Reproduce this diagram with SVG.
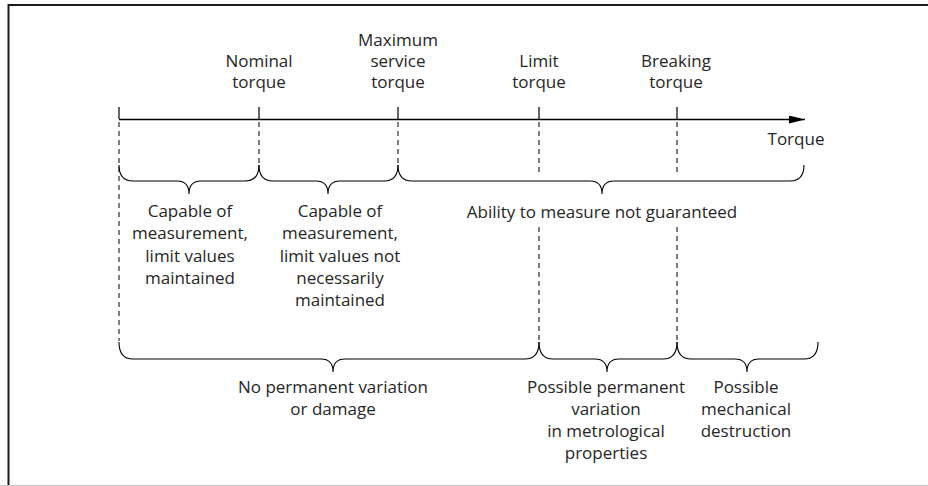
<svg xmlns="http://www.w3.org/2000/svg" width="928" height="486" viewBox="0 0 928 486">
<style>
text{font-family:"Open Sans","Liberation Sans",sans-serif;font-size:17px;fill:#262626;text-anchor:middle}
.frame{fill:none;stroke:#1a1a1a;stroke-width:2}
.axis{stroke:#000;stroke-width:1.4;fill:none}
.tick{stroke:#000;stroke-width:1.2}
.dash{stroke:#000;stroke-width:1;stroke-dasharray:5 4;fill:none}
.brace{stroke:#000;stroke-width:1.1;fill:none}
</style>
<defs>
<marker id="arr" viewBox="0 0 16 8" refX="16" refY="4" markerWidth="16" markerHeight="8" markerUnits="userSpaceOnUse" orient="auto">
<path d="M0,0 L16,4 L0,8 Z" fill="#000"/>
</marker>
</defs>
<path class="frame" d="M8.5,486 V5 H928"/>
<line x1="0" y1="485.5" x2="928" y2="485.5" stroke="#c8c8c8" stroke-width="1"/>

<g id="connectors">
<line class="axis" x1="119" y1="119.5" x2="805" y2="119.5" marker-end="url(#arr)"/>
<g id="ticks">
<line class="tick" x1="119" y1="107" x2="119" y2="119"/>
<line class="tick" x1="259" y1="107" x2="259" y2="119"/>
<line class="tick" x1="398" y1="107" x2="398" y2="119"/>
<line class="tick" x1="539" y1="107" x2="539" y2="119"/>
<line class="tick" x1="677" y1="107" x2="677" y2="119"/>
</g>
<g id="dashes">
<line class="dash" x1="119" y1="122" x2="119" y2="341"/>
<line class="dash" x1="259" y1="122" x2="259" y2="165"/>
<line class="dash" x1="398" y1="122" x2="398" y2="165"/>
<line class="dash" x1="539" y1="122" x2="539" y2="174"/>
<line class="dash" x1="677" y1="122" x2="677" y2="174"/>
<line class="dash" x1="539" y1="227" x2="539" y2="343"/>
<line class="dash" x1="677" y1="227" x2="677" y2="343"/>
</g>
<g id="braces">
<path class="brace" d="M119,165 Q119,181 133,181 H177 Q189,181 189,194 Q189,181 201,181 H245 Q259,181 259,165"/>
<path class="brace" d="M259,165 Q259,181 273,181 H316 Q328,181 328,194 Q328,181 340,181 H384 Q398,181 398,165"/>
<path class="brace" d="M398,165 Q398,181 412,181 H590 Q602,181 602,194 Q602,181 614,181 H790 Q804,181 804,165"/>
<path class="brace" d="M119,342 Q119,359 133,359 H321 Q333,359 333,372 Q333,359 345,359 H525 Q539,359 539,342"/>
<path class="brace" d="M539,342 Q539,359 553,359 H595 Q607,359 607,372 Q607,359 619,359 H663 Q677,359 677,342"/>
<path class="brace" d="M677,342 Q677,359 691,359 H735 Q747,359 747,372 Q747,359 759,359 H804 Q818,359 818,342"/>
</g>
</g>

<g id="nominal"><text x="259" y="67">Nominal</text><text x="259" y="88">torque</text></g>
<g id="maxservice"><text x="398" y="46">Maximum</text><text x="398" y="67">service</text><text x="398" y="88">torque</text></g>
<g id="limit"><text x="539" y="67">Limit</text><text x="539" y="88">torque</text></g>
<g id="breaking"><text x="676" y="67">Breaking</text><text x="676" y="88">torque</text></g>
<g id="torque-axis"><text x="796" y="145">Torque</text></g>

<g id="capable1">
<text x="190" y="217">Capable of</text>
<text x="190" y="239">measurement,</text>
<text x="190" y="262">limit values</text>
<text x="190" y="284">maintained</text>
</g>
<g id="capable2">
<text x="340" y="217">Capable of</text>
<text x="340" y="239">measurement,</text>
<text x="340" y="262">limit values not</text>
<text x="340" y="284">necessarily</text>
<text x="340" y="306">maintained</text>
</g>
<g id="ability"><text x="602" y="218">Ability to measure not guaranteed</text></g>

<g id="nopermanent">
<text x="333" y="393">No permanent variation</text>
<text x="333" y="415">or damage</text>
</g>
<g id="possiblepermanent">
<text x="606" y="393">Possible permanent</text>
<text x="606" y="415">variation</text>
<text x="606" y="437">in metrological</text>
<text x="606" y="459">properties</text>
</g>
<g id="destruction">
<text x="746" y="393">Possible</text>
<text x="746" y="415">mechanical</text>
<text x="746" y="437">destruction</text>
</g>
</svg>
